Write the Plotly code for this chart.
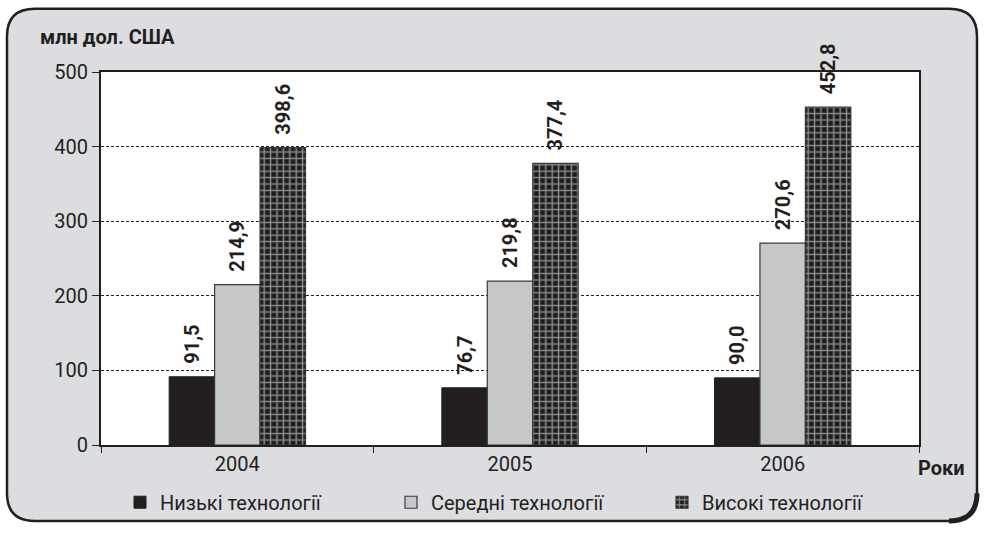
import plotly.graph_objects as go

# data
years = ["2004", "2005", "2006"]
low_tech = [91.5, 76.7, 90.0]
mid_tech = [214.9, 219.8, 270.6]
high_tech = [398.6, 377.4, 452.8]
series_names = ["Низькі технології", "Середні технології", "Високі технології"]


def fmt(v):
    # leading nbsp gives a little gap between the bar and the rotated label
    return "\u00a0\u00a0" + f"{v:.1f}".replace(".", ",")


W, H = 984, 534
ML, MR, MT, MB = 101, 65, 72, 84
PW, PH = W - ML - MR, H - MT - MB


# pixel -> paper coords
def px(x):
    return (x - ML) / PW


def py(y):
    return (H - MB - y) / PH


font_main = "Roboto"
txt_col = "#231f20"

fig = go.Figure()

fig.add_bar(x=years, y=low_tech, name=series_names[0],
            marker=dict(color="#231f20", line=dict(color="#231f20", width=1)),
            text=[fmt(v) for v in low_tech])
fig.add_bar(x=years, y=mid_tech, name=series_names[1],
            marker=dict(color="#c6c7c9", line=dict(color="#3a3a3a", width=1.2)),
            text=[fmt(v) for v in mid_tech])
fig.add_bar(x=years, y=high_tech, name=series_names[2],
            marker=dict(color="#1e1e1e", line=dict(color="#3a3a3a", width=1.2),
                        pattern=dict(shape="+", bgcolor="#1e1e1e", fgcolor="white",
                                     size=6.4, solidity=0.4, fillmode="overlay")),
            text=[fmt(v) for v in high_tech])

fig.update_traces(textposition="outside", textangle=-90, cliponaxis=False,
                  constraintext="none",
                  textfont=dict(family=font_main, size=20, color=txt_col, weight="bold"))

# rounded frame
x0, y0, x1, y1, r = 7, 8, 977, 527, 28
frame = (f"M {px(x0 + r)},{py(y0)} L {px(x1 - r)},{py(y0)} "
         f"Q {px(x1)},{py(y0)} {px(x1)},{py(y0 + r)} "
         f"L {px(x1)},{py(y1 - r)} Q {px(x1)},{py(y1)} {px(x1 - r)},{py(y1)} "
         f"L {px(x0 + r)},{py(y1)} Q {px(x0)},{py(y1)} {px(x0)},{py(y1 - r)} "
         f"L {px(x0)},{py(y0 + r)} Q {px(x0)},{py(y0)} {px(x0 + r)},{py(y0)} Z")
# heavier bottom-right corner, same curve as the frame
corner = f"M {px(x1)},{py(y1 - r)} Q {px(x1)},{py(y1)} {px(x1 - r)},{py(y1)}"

fig.update_layout(
    width=W, height=H,
    margin=dict(l=ML, r=MR, t=MT, b=MB),
    paper_bgcolor="white",
    plot_bgcolor="white",
    barmode="group",
    bargap=0.5,
    bargroupgap=0,
    font=dict(family=font_main, size=20, color=txt_col),
    shapes=[
        dict(type="path", xref="paper", yref="paper", path=frame, layer="below",
             fillcolor="#dcdde0", line=dict(color="#231f20", width=2.5)),
        dict(type="path", xref="paper", yref="paper", path=corner, layer="below",
             line=dict(color="#231f20", width=5)),
        dict(type="rect", xref="paper", yref="paper", x0=0, x1=1, y0=0, y1=1,
             layer="below", fillcolor="white", line=dict(width=0)),
    ],
    xaxis=dict(showline=True, mirror=True, linecolor="#231f20", linewidth=2,
               ticks="outside", tickson="boundaries", ticklen=6, tickcolor="#231f20",
               showgrid=False, tickfont=dict(size=20)),
    yaxis=dict(range=[0, 500], tickvals=[0, 100, 200, 300, 400, 500],
               showline=True, mirror=True, linecolor="#231f20", linewidth=1.8,
               ticks="outside", ticklen=7, tickcolor="#231f20",
               showgrid=True, gridcolor="#231f20", griddash="3px,2px", gridwidth=1,
               zeroline=False, tickfont=dict(size=20)),
    legend=dict(orientation="h", x=px(120), y=py(508),
                xanchor="left", yanchor="middle",
                bgcolor="rgba(0,0,0,0)", font=dict(size=20), traceorder="normal",
                entrywidth=226),
    annotations=[
        dict(text="<b>млн дол. США</b>", xref="paper", yref="paper", x=px(38), y=py(37),
             xanchor="left", yanchor="middle", showarrow=False, font=dict(size=20)),
        dict(text="<b>Роки</b>", xref="paper", yref="paper", x=px(916), y=py(473),
             xanchor="left", yanchor="middle", showarrow=False, font=dict(size=20)),
    ],
)

fig.write_html("out.html", config={"displayModeBar": False},
               post_script="document.body.style.margin='0';")
